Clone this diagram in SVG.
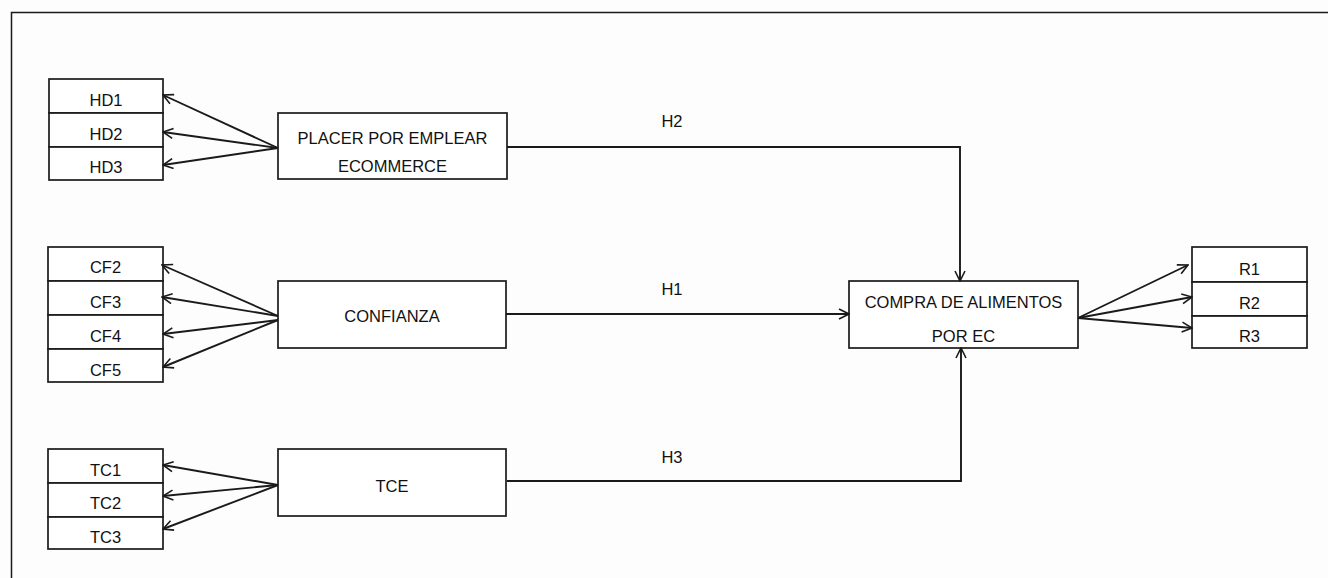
<svg xmlns="http://www.w3.org/2000/svg" width="1328" height="578" viewBox="0 0 1328 578">
<defs>
<marker id="arr" viewBox="0 0 12 12" refX="11" refY="6" markerWidth="12" markerHeight="12" markerUnits="userSpaceOnUse" orient="auto">
<path d="M1,1 L11,6 L1,11" fill="none" stroke="#1a1a1a" stroke-width="1.6"/>
</marker>
<style>
.box{fill:#ffffff;stroke:#1a1a1a;stroke-width:1.7}
.t{font-family:"Liberation Sans",Arial,sans-serif;font-size:16.5px;fill:#111;text-anchor:middle}
.c{fill:none;stroke:#1a1a1a;stroke-width:1.9;marker-end:url(#arr)}
</style>
</defs>
<rect x="0" y="0" width="1328" height="578" fill="#fdfdfd"/>
<rect x="11.5" y="12.5" width="1340" height="600" fill="none" stroke="#1a1a1a" stroke-width="1.5"/>

<g id="HD1"><rect class="box" x="49" y="79" width="114" height="34"/><text class="t" x="106" y="106">HD1</text></g>
<g id="HD2"><rect class="box" x="49" y="113" width="114" height="34"/><text class="t" x="106" y="140">HD2</text></g>
<g id="HD3"><rect class="box" x="49" y="147" width="114" height="33"/><text class="t" x="106" y="173">HD3</text></g>

<g id="placer"><rect class="box" x="278" y="113" width="229" height="66"/><text class="t" x="392.5" y="144">PLACER POR EMPLEAR</text><text class="t" x="392.5" y="172">ECOMMERCE</text></g>

<g id="CF2"><rect class="box" x="48" y="247" width="115" height="34"/><text class="t" x="105.5" y="273">CF2</text></g>
<g id="CF3"><rect class="box" x="48" y="281" width="115" height="34"/><text class="t" x="105.5" y="308">CF3</text></g>
<g id="CF4"><rect class="box" x="48" y="315" width="115" height="34"/><text class="t" x="105.5" y="342">CF4</text></g>
<g id="CF5"><rect class="box" x="48" y="349" width="115" height="33"/><text class="t" x="105.5" y="376">CF5</text></g>

<g id="confianza"><rect class="box" x="278" y="281" width="228" height="67"/><text class="t" x="392" y="322">CONFIANZA</text></g>

<g id="TC1"><rect class="box" x="48" y="449" width="115" height="34"/><text class="t" x="105.5" y="476">TC1</text></g>
<g id="TC2"><rect class="box" x="48" y="483" width="115" height="34"/><text class="t" x="105.5" y="509">TC2</text></g>
<g id="TC3"><rect class="box" x="48" y="517" width="115" height="32"/><text class="t" x="105.5" y="543">TC3</text></g>

<g id="tce"><rect class="box" x="278" y="449" width="228" height="67"/><text class="t" x="392" y="492">TCE</text></g>

<g id="compra"><rect class="box" x="849" y="281" width="229" height="67"/><text class="t" x="963.5" y="308">COMPRA DE ALIMENTOS</text><text class="t" x="963.5" y="342">POR EC</text></g>

<g id="R1"><rect class="box" x="1192" y="247" width="115" height="35"/><text class="t" x="1249.5" y="275">R1</text></g>
<g id="R2"><rect class="box" x="1192" y="282" width="115" height="34"/><text class="t" x="1249.5" y="309">R2</text></g>
<g id="R3"><rect class="box" x="1192" y="316" width="115" height="32"/><text class="t" x="1249.5" y="342">R3</text></g>

<g id="connectors">
<line class="c" x1="278" y1="148" x2="163" y2="95"/>
<line class="c" x1="278" y1="148" x2="163" y2="132"/>
<line class="c" x1="278" y1="148" x2="163" y2="165"/>
<line class="c" x1="278" y1="316" x2="162" y2="265"/>
<line class="c" x1="278" y1="316" x2="162" y2="297"/>
<line class="c" x1="278" y1="320" x2="163" y2="334"/>
<line class="c" x1="278" y1="320" x2="163" y2="367"/>
<line class="c" x1="278" y1="485" x2="163" y2="465"/>
<line class="c" x1="278" y1="485" x2="163" y2="496"/>
<line class="c" x1="278" y1="485" x2="163" y2="529"/>
<line class="c" x1="1078" y1="318" x2="1188" y2="265"/>
<line class="c" x1="1078" y1="318" x2="1192" y2="297"/>
<line class="c" x1="1078" y1="318" x2="1192" y2="328"/>
<polyline class="c" points="507,147 960,147 960,281"/>
<line class="c" x1="506" y1="314" x2="849" y2="314"/>
<polyline class="c" points="507,481 961,481 961,348"/>
<text class="t" x="672" y="127">H2</text>
<text class="t" x="672" y="295">H1</text>
<text class="t" x="672" y="463">H3</text>
</g>
</svg>
